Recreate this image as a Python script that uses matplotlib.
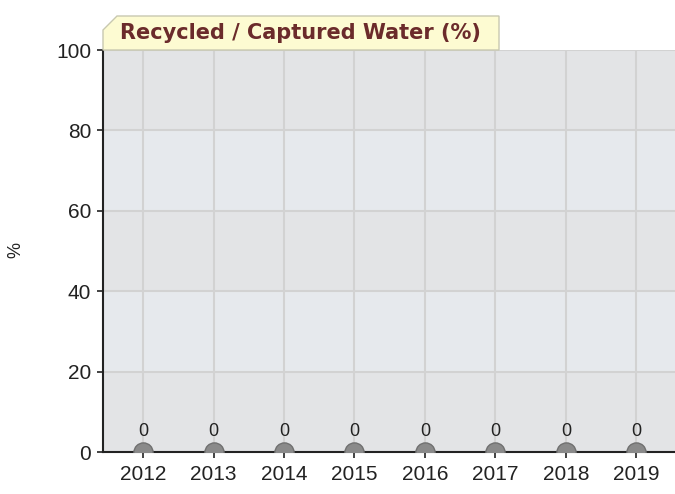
import matplotlib.pyplot as plt
from matplotlib.patches import Polygon

plt.rcParams['font.family'] = ['Liberation Sans', 'DejaVu Sans']

# chart data
years = ['2012', '2013', '2014', '2015', '2016', '2017', '2018', '2019']
values = [0, 0, 0, 0, 0, 0, 0, 0]
y_ticks = [0, 20, 40, 60, 80, 100]
title = 'Recycled / Captured Water (%)'

W, H = 675, 494
fig = plt.figure(figsize=(W / 100, H / 100), dpi=100)
ax = fig.add_axes([103 / W, 1 - 452 / H, 1 - 103 / W, (452 - 50) / H])

x = list(range(len(years)))
ax.set_xlim(-0.57, 7.55)
ax.set_ylim(0, 100)

# alternating bands
for i in range(len(y_ticks) - 1):
    c = '#e3e4e6' if i % 2 == 0 else '#e6e9ed'
    ax.axhspan(y_ticks[i], y_ticks[i + 1], color=c, zorder=0, lw=0)

ax.set_yticks(y_ticks)
ax.set_xticks(x)
ax.set_xticklabels(years)
ax.grid(True, color='#d2d2d2', lw=1.5, zorder=1)
ax.set_axisbelow(True)

ax.scatter(x, values, s=190, color='#8a8a8a', edgecolor='#707070', zorder=3, clip_on=True)
for xi, v in zip(x, values):
    ax.annotate(str(v), (xi, v), xytext=(0, 8.5), textcoords='offset points',
                ha='center', va='bottom', fontsize=13, color='#222222')

for s in ['top', 'right']:
    ax.spines[s].set_visible(False)
for s in ['left', 'bottom']:
    ax.spines[s].set_color('#222222')
    ax.spines[s].set_linewidth(1.5)
ax.tick_params(axis='both', labelsize=15, colors='#222222', length=4.5, width=1.2)
ax.tick_params(axis='x', pad=5)
ax.tick_params(axis='y', pad=4)
fig.text(16 / W, 1 - 250 / H, '%', fontsize=13, rotation=90, ha='center', va='center', color='#222222')

# title tab
pts = [(103, 50), (103, 30), (117, 16), (499, 16), (499, 50)]
tab = Polygon([(px / W, 1 - py / H) for px, py in pts], closed=True, transform=fig.transFigure,
              facecolor='#fdfbd2', edgecolor='#c8c8b0', lw=1, zorder=5)
fig.patches.append(tab)
fig.text(120 / W, 1 - 33 / H, title, fontsize=15, fontweight='bold', color='#6b2b2b',
         family='DejaVu Sans', va='center', ha='left', zorder=6)

fig.savefig('out.png', dpi=100)
